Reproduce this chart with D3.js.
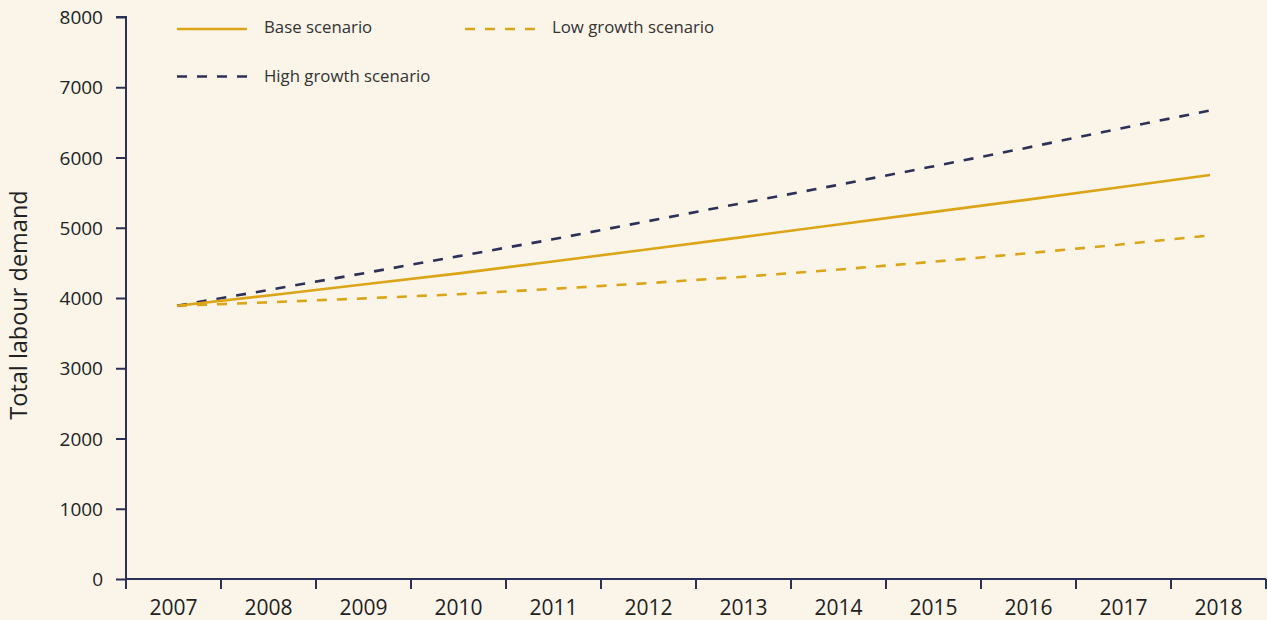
<!DOCTYPE html>
<html><head><meta charset="utf-8">
<script src="https://cdn.jsdelivr.net/npm/d3@7"></script>
<style>
html,body{margin:0;padding:0;background:#faf4e9;}
svg{display:block;}
text{font-family:"Open Sans","Noto Sans",sans-serif;}
</style></head>
<body>
<svg id="c" width="1267" height="620"></svg>
<script>
const years = ["2007","2008","2009","2010","2011","2012","2013","2014","2015","2016","2017","2018"];
const baseScenario = [3890,4040,4195,4350,4520,4690,4863,5040,5215,5390,5570,5752];
const lowScenario  = [3890,3940,3995,4054,4130,4210,4300,4400,4510,4630,4755,4890];
const highScenario = [3890,4120,4355,4596,4835,5090,5346,5600,5860,6125,6400,6670];
const yTicks = [0,1000,2000,3000,4000,5000,6000,7000,8000];

const gold = "#dba517", navy = "#2d3157";
const svg = d3.select("#c");
const x0 = 126, x1 = 1266, yTop = 17, yBot = 579;

const xBand = d3.scaleBand().domain(years).range([x0, x1]);
const xLine = d3.scalePoint().domain(years).range([x0 + 51, x1 - 56]);
const y = d3.scaleLinear().domain([0, 8000]).range([yBot, yTop]);

// y axis
const ya = svg.append("g").attr("transform", `translate(${x0},0)`)
  .call(d3.axisLeft(y).tickValues(yTicks).tickSize(10).tickPadding(13).tickFormat(d3.format("d")));
ya.select(".domain").attr("stroke", navy).attr("stroke-width", 2).attr("d", `M-10,${yTop}H0V${yBot}`);
ya.selectAll(".tick line").attr("stroke", navy).attr("stroke-width", 2);
ya.selectAll(".tick text").attr("fill", "#222").style("font-size", "19px").attr("dy", "0.35em");

// x axis
const xa = svg.append("g").attr("transform", `translate(0,${yBot})`)
  .call(d3.axisBottom(xBand).tickSize(0));
xa.select(".domain").attr("stroke", navy).attr("stroke-width", 2).attr("d", `M${x0},0H${x1}`);
xa.selectAll(".tick text").attr("fill", "#222").style("font-size", "21px").attr("y", 28.5).attr("dy", "0.36em");
const xTickPos = years.map(d => xBand(d)).concat([x1]);
svg.append("g").selectAll("line").data(xTickPos).join("line")
  .attr("x1", d => d).attr("x2", d => d).attr("y1", yBot).attr("y2", yBot + 10)
  .attr("stroke", navy).attr("stroke-width", 2);

// y title
svg.append("text").attr("transform", `translate(19,305) rotate(-90)`)
  .attr("text-anchor", "middle").attr("dy", "0.36em").attr("fill", "#222").style("font-size", "23.5px")
  .text("Total labour demand");

// lines
const line = d3.line().x((d,i) => xLine(years[i])).y(d => y(d));
const series = [
  {name:"Low growth scenario", data: lowScenario, color: gold, dash: "10,10"},
  {name:"High growth scenario", data: highScenario, color: navy, dash: "10,10"},
  {name:"Base scenario", data: baseScenario, color: gold, dash: null}
];
series.forEach(s => {
  svg.append("path").attr("d", line(s.data)).attr("fill", "none")
    .attr("stroke", s.color).attr("stroke-width", 2.6)
    .attr("stroke-dasharray", s.dash);
});

// legend
const legend = [
  {name:"Base scenario", color: gold, dash: null, lx: 177, ly: 29, ty: 27},
  {name:"Low growth scenario", color: gold, dash: "10,10", lx: 465, ly: 29, ty: 27},
  {name:"High growth scenario", color: navy, dash: "10,10", lx: 177, ly: 76.5, ty: 76}
];
legend.forEach(l => {
  svg.append("line").attr("x1", l.lx).attr("x2", l.lx + 70).attr("y1", l.ly).attr("y2", l.ly)
    .attr("stroke", l.color).attr("stroke-width", 2.6).attr("stroke-dasharray", l.dash);
  svg.append("text").attr("x", l.lx + 87).attr("y", l.ty).attr("dy", "0.36em")
    .attr("fill", "#333").style("font-size", "16.8px").text(l.name);
});
</script>
</body></html>
